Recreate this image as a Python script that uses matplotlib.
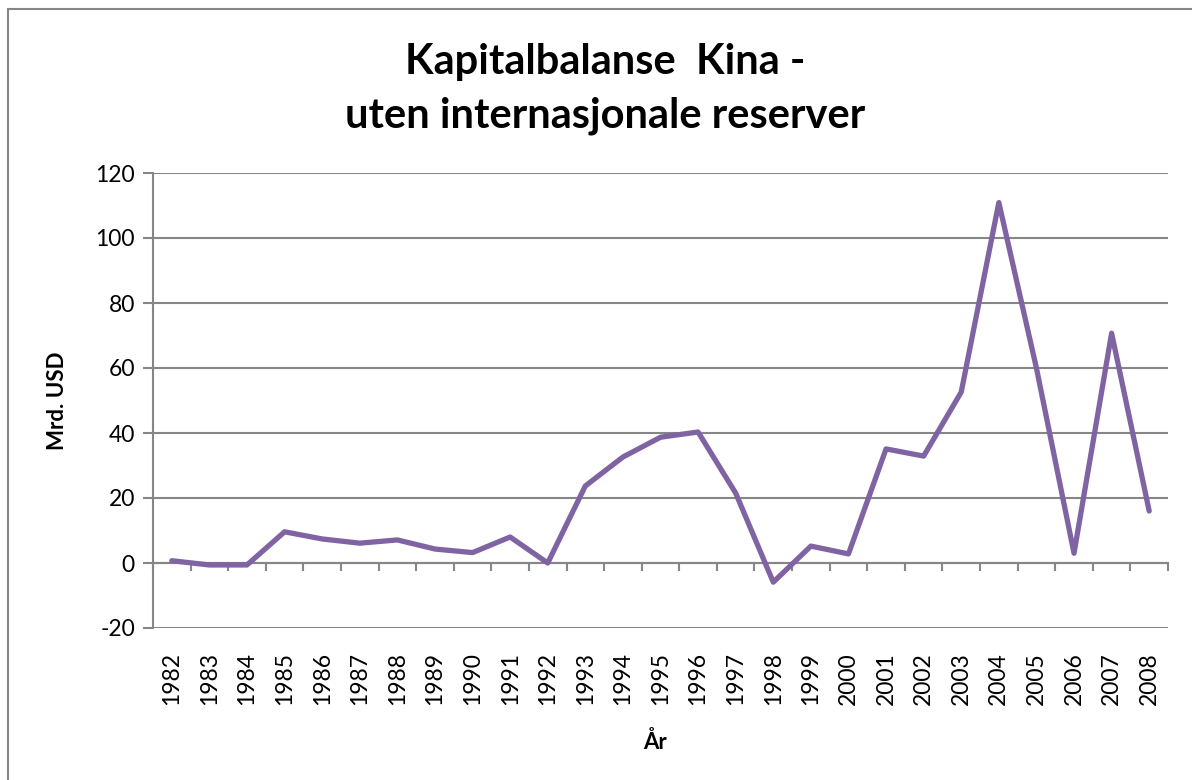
import matplotlib.pyplot as plt
from matplotlib.patches import Rectangle
from matplotlib.ticker import FixedLocator

years = [str(y) for y in range(1982, 2009)]
values = [0.7, -0.6, -0.6, 9.6, 7.4, 6.1, 7.1, 4.3, 3.2, 8.0, 0.0, 23.7, 32.6,
          38.7, 40.3, 21.5, -5.9, 5.2, 2.8, 35.1, 32.9, 52.6, 110.9, 60.0,
          3.0, 70.7, 16.0]
yticks = [-20, 0, 20, 40, 60, 80, 100, 120]

plt.rcParams['font.family'] = ['Lato', 'DejaVu Sans']
plt.rcParams['axes.unicode_minus'] = False
grey = '#868686'

fig = plt.figure(figsize=(11.92, 7.8), dpi=100)
ax = fig.add_axes([153 / 1192, 1 - 628 / 780, (1168 - 153) / 1192, (628 - 173) / 780])

x = list(range(len(years)))
ax.plot(x, values, color='#7f63a2', linewidth=3.8, solid_joinstyle='round',
        solid_capstyle='round', zorder=3)

ax.set_xlim(-0.5, len(years) - 0.5)
ax.set_ylim(-20, 120)
ax.set_yticks(yticks)
ax.yaxis.grid(True, color=grey, linewidth=1.5)
ax.set_axisbelow(True)

for s in ['top', 'right']:
    ax.spines[s].set_visible(False)
ax.spines['left'].set_color(grey)
ax.spines['left'].set_linewidth(1.5)
ax.spines['bottom'].set_position(('data', 0))
ax.spines['bottom'].set_color(grey)
ax.spines['bottom'].set_linewidth(1.5)

ax.set_xticks(x)
ax.set_xticklabels(years, rotation=90)
ax.xaxis.set_minor_locator(FixedLocator([i + 0.5 for i in range(-1, len(years))]))
ax.tick_params(axis='x', which='major', length=0, pad=64, labelsize=16.5)
ax.tick_params(axis='x', which='minor', length=6, width=1.5, color=grey, direction='out')
ax.tick_params(axis='y', length=7, width=1.5, color=grey, labelsize=16.5, pad=6)

ax.set_ylabel('Mrd. USD', fontsize=16, fontweight='bold', labelpad=20)
fig.text(655 / 1192, 1 - 742 / 780, 'År', fontsize=16, fontweight='bold',
         ha='center', va='center')

fig.text(605 / 1192, 1 - 62 / 780, 'Kapitalbalanse  Kina -', fontsize=30,
         fontweight='bold', ha='center', va='center')
fig.text(605 / 1192, 1 - 116 / 780, 'uten internasjonale reserver', fontsize=30,
         fontweight='bold', ha='center', va='center')

fig.patches.append(Rectangle((8 / 1192, -0.05), 1.1, 1.05 - 9 / 780,
                             transform=fig.transFigure, fill=False,
                             edgecolor=grey, linewidth=1.5))

fig.savefig('out.png', dpi=100)
